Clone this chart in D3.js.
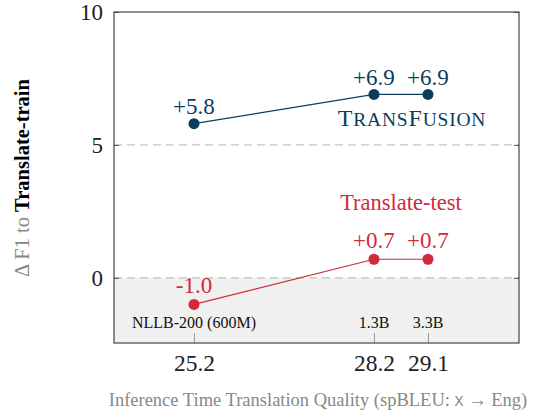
<!DOCTYPE html>
<html>
<head>
<meta charset="utf-8">
<script src="https://cdn.jsdelivr.net/npm/d3@7"></script>
</head>
<body style="margin:0;background:#fff">
<div id="app"></div>
<script>
// data
const xTicks = [25.2, 28.2, 29.1];
const yTicks = [0, 5, 10];
const modelSizes = ["NLLB-200 (600M)", "1.3B", "3.3B"];
const transFusion = [5.8, 6.9, 6.9];
const translateTest = [-1.0, 0.7, 0.7];

const w = 533;
const h = 412;
const m = { left: 114, right: 14, top: 12, bottom: 69 };
const serif = '"Liberation Serif"';

const navy = "#0b3d5a";
const red = "#d12a3c";

const svg = d3.select("#app").append("svg")
  .attr("width", w).attr("height", h);

const x = d3.scaleLinear().domain([23.867, 30.617]).range([m.left, w - m.right]);
const y = d3.scaleLinear().domain([-2.45, 10]).range([h - m.bottom, m.top]);

// shaded negative region
svg.append("rect")
  .attr("x", x.range()[0]).attr("y", y(0))
  .attr("width", x.range()[1] - x.range()[0])
  .attr("height", y(-2.45) - y(0))
  .attr("fill", "#f0f0f0");

// dashed grid
svg.append("g").selectAll("line")
  .data(yTicks.filter((d) => d < 10))
  .enter().append("line")
  .attr("x1", x.range()[0]).attr("x2", x.range()[1])
  .attr("y1", (d) => y(d)).attr("y2", (d) => y(d))
  .attr("stroke", "#b5b5b5")
  .attr("stroke-dasharray", "8,5");

// y axis left
const yAxis = d3.axisLeft(y).tickValues(yTicks).tickSize(-5).tickPadding(11);
const gy = svg.append("g").attr("transform", `translate(${m.left},0)`).call(yAxis);
gy.select(".domain").remove();
gy.selectAll("line").attr("stroke", "#555");
gy.selectAll("text").style("font-family", serif).style("font-size", "23px").attr("fill", "#222");

// right ticks
const gyr = svg.append("g").attr("transform", `translate(${w - m.right},0)`)
  .call(d3.axisRight(y).tickValues(yTicks).tickSize(-5).tickFormat(""));
gyr.select(".domain").remove();
gyr.selectAll("line").attr("stroke", "#555");

// x axis
const xAxis = d3.axisBottom(x).tickValues(xTicks).tickSize(-10).tickPadding(11).tickFormat(d3.format(".1f"));
const gx = svg.append("g").attr("transform", `translate(0,${h - m.bottom})`).call(xAxis);
gx.select(".domain").remove();
gx.selectAll("line").attr("stroke", "#999");
gx.selectAll("text").style("font-family", serif).style("font-size", "23.5px").attr("fill", "#222");

// frame
svg.append("rect")
  .attr("x", m.left).attr("y", m.top)
  .attr("width", w - m.left - m.right).attr("height", h - m.top - m.bottom)
  .attr("fill", "none").attr("stroke", "#444").attr("stroke-width", 1.2);

// model size labels
svg.append("g").selectAll("text")
  .data(modelSizes)
  .enter().append("text")
  .attr("x", (d, i) => x(xTicks[i]))
  .attr("y", y(-1.88))
  .attr("text-anchor", "middle")
  .style("font-family", serif)
  .style("font-size", "16px")
  .attr("fill", "#111")
  .text((d) => d);

// series
const line = d3.line().x((d, i) => x(xTicks[i])).y((d) => y(d));

function drawSeries(vals, color, labelOffset, fmt) {
  svg.append("path").datum(vals)
    .attr("d", line).attr("fill", "none")
    .attr("stroke", color).attr("stroke-width", 1.2);
  svg.append("g").selectAll("circle")
    .data(vals).enter().append("circle")
    .attr("cx", (d, i) => x(xTicks[i])).attr("cy", (d) => y(d))
    .attr("r", 5.5).attr("fill", color);
  svg.append("g").selectAll("text")
    .data(vals).enter().append("text")
    .attr("x", (d, i) => x(xTicks[i]))
    .attr("y", (d) => y(d) - labelOffset)
    .attr("text-anchor", "middle")
    .style("font-family", serif)
    .style("font-size", "23px")
    .attr("fill", color)
    .text(fmt);
}

const fmt = (d) => (d > 0 ? "+" : "") + d.toFixed(1);
drawSeries(transFusion, navy, 9.5, fmt);
drawSeries(translateTest, red, 11, fmt);

// series names
const tf = svg.append("text")
  .attr("x", 412).attr("y", y(5.71))
  .attr("text-anchor", "middle")
  .attr("fill", navy)
  .style("font-family", serif)
  .style("font-size", "24px")
  .style("letter-spacing", "0.8px");
tf.append("tspan").text("T");
tf.append("tspan").style("font-size", "19.5px").text("RANS");
tf.append("tspan").text("F");
tf.append("tspan").style("font-size", "19.5px").text("USION");

svg.append("text")
  .attr("x", 401).attr("y", y(2.55))
  .attr("text-anchor", "middle")
  .attr("fill", red)
  .style("font-family", serif)
  .style("font-size", "22.5px")
  .text("Translate-test");

// axis titles
const xt = svg.append("text")
  .attr("x", 318).attr("y", 406)
  .attr("text-anchor", "middle")
  .attr("fill", "#888")
  .style("font-family", serif)
  .style("font-size", "18.5px");
xt.append("tspan").text("Inference Time Translation Quality (spBLEU: ");
xt.append("tspan").style("font-family", '"Liberation Mono"').style("font-size", "15px").text("X");
xt.append("tspan").text(" \u2192 Eng)");

const yt = svg.append("text")
  .attr("transform", "translate(29,178) rotate(-90)")
  .attr("text-anchor", "middle")
  .style("font-family", serif)
  .style("font-size", "20.5px");
yt.append("tspan").attr("fill", "#888").text("\u0394 F1 to ");
yt.append("tspan").attr("fill", "#000").attr("font-weight", "bold").text("Translate-train");
</script>
</body>
</html>
